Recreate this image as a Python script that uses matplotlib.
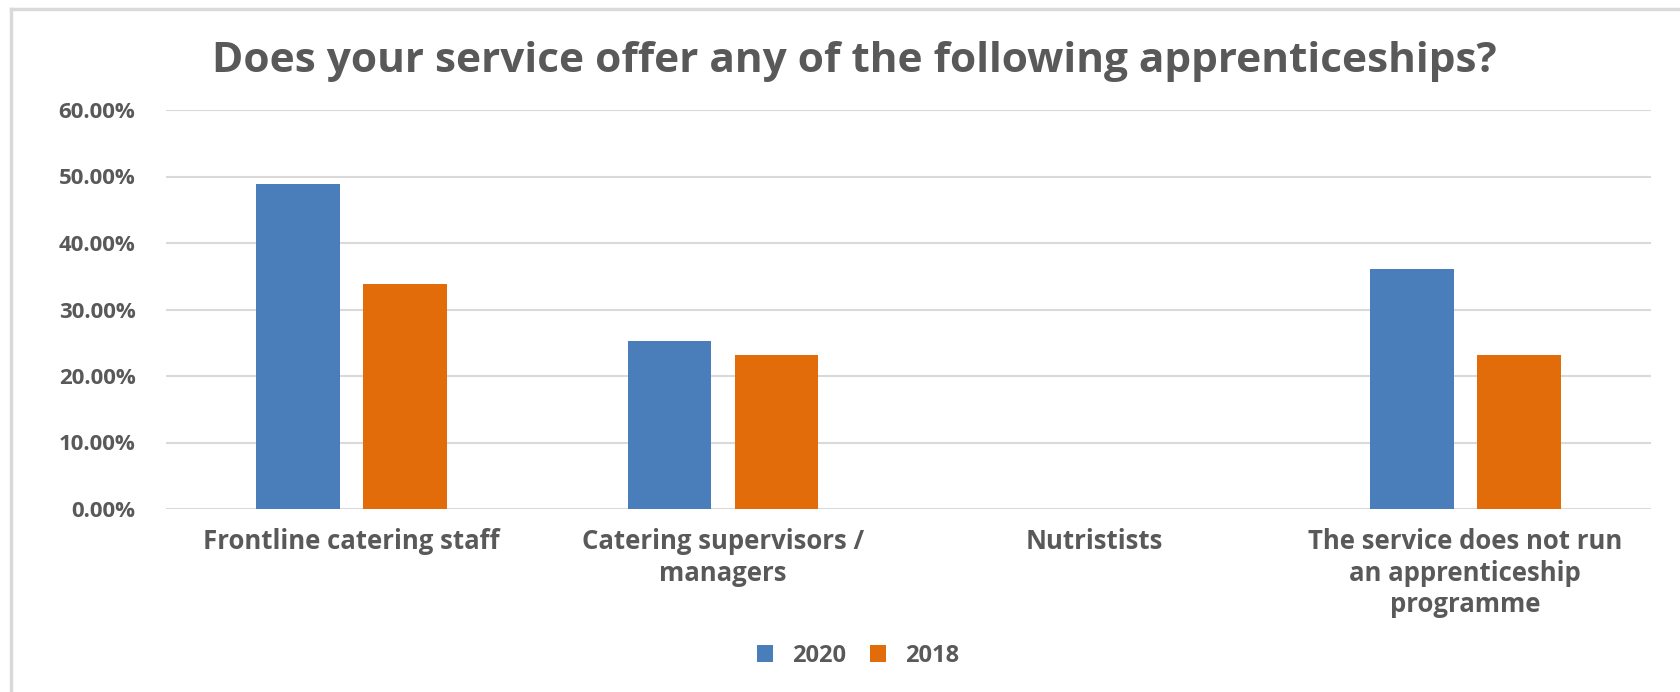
import matplotlib
matplotlib.use("Agg")
import matplotlib.pyplot as plt
import numpy as np
from matplotlib.lines import Line2D
from matplotlib.ticker import PercentFormatter

categories = ["Frontline catering staff", "Catering supervisors /\nmanagers",
              "Nutristists", "The service does not run\nan apprenticeship\nprogramme"]
vals_2020 = [0.489, 0.253, 0.0, 0.361]
vals_2018 = [0.339, 0.232, 0.0, 0.232]
series = ["2020", "2018"]
yticks = [0.0, 0.1, 0.2, 0.3, 0.4, 0.5, 0.6]

blue = "#4A7EBB"
orange = "#E36C0A"
txt = "#595959"
grid = "#D9D9D9"

plt.rcParams["font.family"] = ["Open Sans", "DejaVu Sans"]

W, H = 1681, 692
fig = plt.figure(figsize=(W / 100, H / 100), dpi=100)
ax = fig.add_axes([166 / W, 1 - 509 / H, (1651 - 166) / W, (509 - 110) / H])

x = np.arange(len(categories))
bw = 0.225
ax.bar(x - 0.144, vals_2020, bw, color=blue, label=series[0], zorder=3)
ax.bar(x + 0.144, vals_2018, bw, color=orange, label=series[1], zorder=3)

ax.set_xlim(-0.5, len(categories) - 0.5)
ax.set_ylim(0, 0.6)
ax.set_yticks(yticks)
ax.yaxis.set_major_formatter(PercentFormatter(1.0, decimals=2))
ax.set_xticks(x)
ax.set_xticklabels(categories, linespacing=1.2)
for sp in ax.spines.values():
    sp.set_visible(False)
ax.grid(axis="y", color=grid, linewidth=1.5, zorder=0)
ax.tick_params(axis="both", length=0, colors=txt)
ax.tick_params(axis="y", pad=22, labelsize=16)
ax.tick_params(axis="x", pad=14, labelsize=18.5)
for lab in ax.get_xticklabels() + ax.get_yticklabels():
    lab.set_fontweight("bold")
    lab.set_color(txt)

fig.text(0.508, 1 - 61 / H, "Does your service offer any of the following apprenticeships?",
         ha="center", va="center", fontsize=30.5, fontweight="bold", color=txt)

fig.legend(loc="center", bbox_to_anchor=(858 / W, 1 - 656 / H), ncol=2, frameon=False,
           handlelength=0.7, handleheight=0.7, columnspacing=1.0, handletextpad=0.8,
           prop={"size": 17, "weight": "bold"}, labelcolor=txt)

# chart border (left and top visible)
fig.add_artist(Line2D([11 / W, 11 / W], [0, 1 - 9 / H], color=grid, linewidth=2.5, transform=fig.transFigure))
fig.add_artist(Line2D([11 / W, 1], [1 - 9 / H, 1 - 9 / H], color=grid, linewidth=2.5, transform=fig.transFigure))

fig.savefig("out.png", dpi=100)
